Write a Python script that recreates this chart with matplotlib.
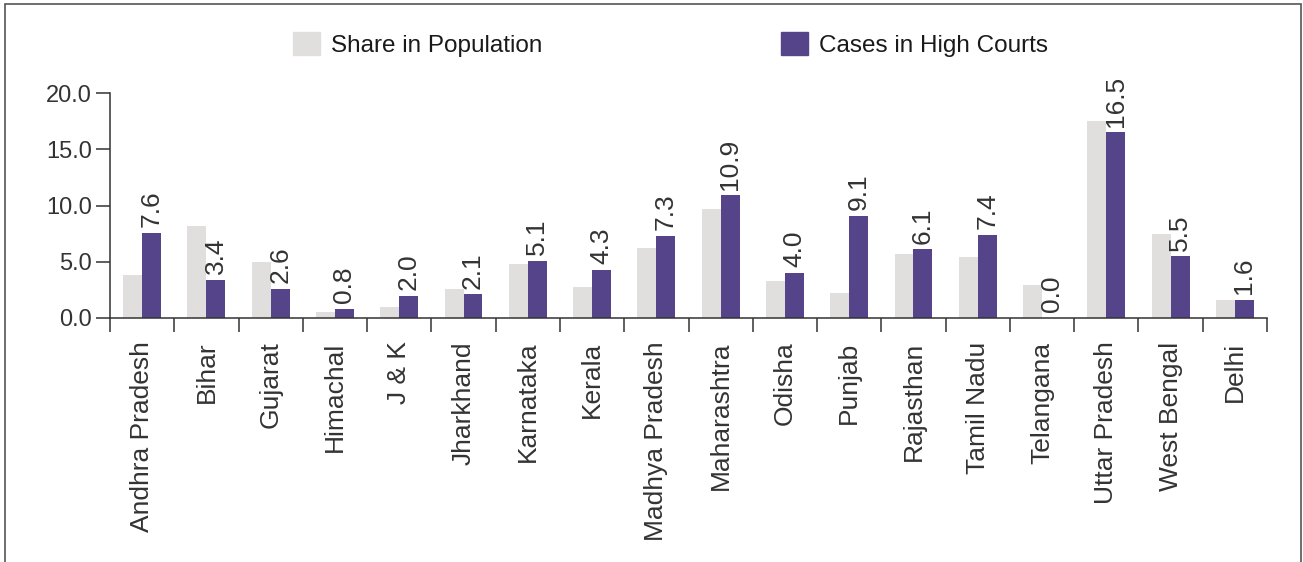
import numpy as np
import matplotlib
matplotlib.use("Agg")
import matplotlib.pyplot as plt
from matplotlib.patches import Rectangle, Patch

# state-wise share in population vs share of cases pending in High Courts (%)
states = ["Andhra Pradesh", "Bihar", "Gujarat", "Himachal", "J & K", "Jharkhand",
          "Karnataka", "Kerala", "Madhya Pradesh", "Maharashtra", "Odisha", "Punjab",
          "Rajasthan", "Tamil Nadu", "Telangana", "Uttar Pradesh", "West Bengal", "Delhi"]
population_share = [3.8, 8.2, 5.0, 0.5, 1.0, 2.6, 4.8, 2.8, 6.2, 9.7,
                    3.3, 2.2, 5.7, 5.4, 2.9, 17.5, 7.5, 1.6]
hc_cases_share = [7.6, 3.4, 2.6, 0.8, 2.0, 2.1, 5.1, 4.3, 7.3, 10.9,
                  4.0, 9.1, 6.1, 7.4, 0.0, 16.5, 5.5, 1.6]

GREY = "#E0DFDE"
PURPLE = "#55448A"
DARK = "#333333"

plt.rcParams["font.family"] = ["Liberation Sans", "DejaVu Sans"]

fig = plt.figure(figsize=(13.03, 5.62), dpi=100)
ax = fig.add_axes([110 / 1303, 244 / 562, 1157 / 1303, 225 / 562])

x = np.arange(len(states))
w = 0.295
ax.bar(x - w / 2, population_share, w, color=GREY, label="Share in Population")
bars = ax.bar(x + w / 2, hc_cases_share, w, color=PURPLE, label="Cases in High Courts")

for b, v in zip(bars, hc_cases_share):
    ax.annotate(f"{v:.1f}", (b.get_x() + b.get_width() / 2, v),
                xytext=(0, 4), textcoords="offset points",
                rotation=90, ha="center", va="bottom",
                fontsize=19, color=DARK,
                family=["Liberation Sans Narrow", "Liberation Sans", "DejaVu Sans"])

ax.set_xlim(-0.5, len(states) - 0.5)
ax.set_ylim(0, 20)
ax.set_yticks(np.arange(0, 20.1, 5))
ax.set_yticklabels([f"{t:.1f}" for t in np.arange(0, 20.1, 5)])

# boundary ticks between groups, names on minor ticks at group centres
ax.set_xticks(np.arange(len(states) + 1) - 0.5)
ax.set_xticklabels([])
ax.set_xticks(x, minor=True)
ax.set_xticklabels(states, minor=True, rotation=90, fontsize=19, color=DARK)
ax.tick_params(axis="x", which="major", length=10, width=1.1, color=DARK)
ax.tick_params(axis="x", which="minor", length=0, pad=17)
ax.tick_params(axis="y", length=10, width=1.1, color=DARK, pad=3,
               labelsize=17, labelcolor=DARK)

for s in ["top", "right"]:
    ax.spines[s].set_visible(False)
for s in ["left", "bottom"]:
    ax.spines[s].set_color(DARK)
    ax.spines[s].set_linewidth(1.1)

handles = [Patch(color=GREY), Patch(color=PURPLE)]
fig.legend(handles, ["Share in Population", "Cases in High Courts"],
           loc="upper left", bbox_to_anchor=(293 / 1303, 1 - 32 / 562),
           ncol=2, frameon=False, fontsize=17.5, borderpad=0, borderaxespad=0,
           handlelength=1.1, handleheight=1.1, handletextpad=0.45,
           columnspacing=9.85, labelcolor="#1a1a1a")

# outer frame
fig.patches.append(Rectangle((5 / 1303, -0.05), 1296 / 1303, 1.05 - 4 / 562,
                             transform=fig.transFigure, fill=False,
                             edgecolor="#555555", linewidth=1.2))

fig.savefig("out.png", dpi=100)
